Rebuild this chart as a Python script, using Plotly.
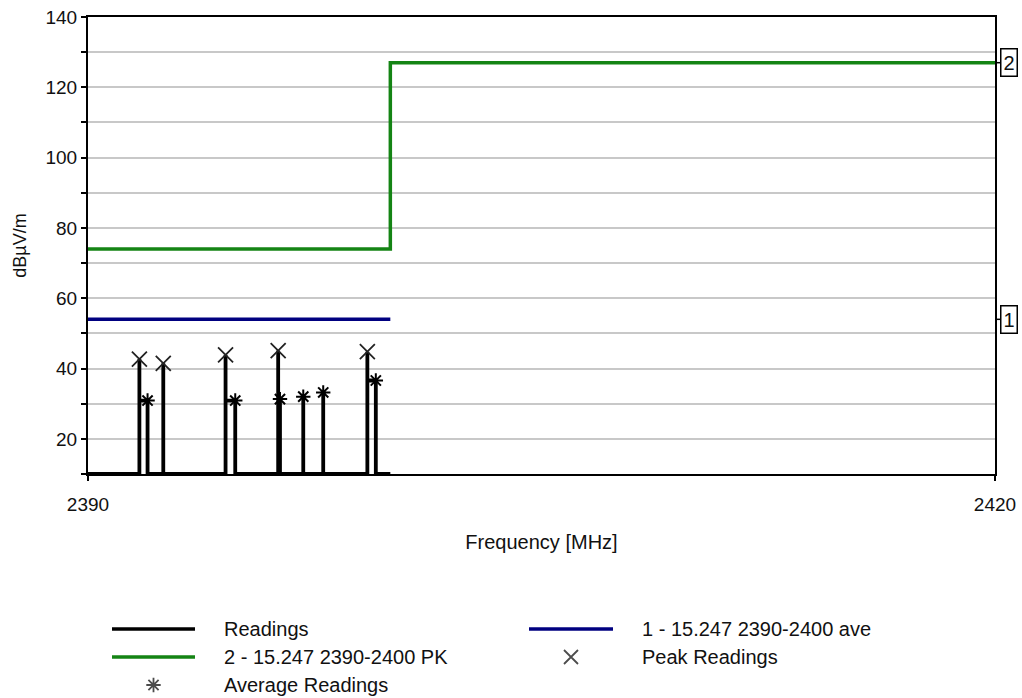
import plotly.graph_objects as go

# ---------------- data ----------------
freq_range = [2390, 2420]
y_range = [10, 140]
floor_level = 10

peak_freq = [2391.70, 2392.49, 2394.55, 2396.29, 2399.24]
peak_val = [42.7, 41.5, 43.9, 45.1, 44.8]

avg_freq = [2391.97, 2394.87, 2396.35, 2397.12, 2397.78, 2399.52]
avg_val = [30.9, 30.9, 31.3, 32.0, 33.2, 36.6]

readings_span = [2390, 2400]

limit_pk_freq = [2390, 2400, 2400, 2420]
limit_pk_val = [74, 74, 127, 127]

limit_ave_freq = [2390, 2400]
limit_ave_val = [54, 54]

y_tick_vals = [10, 20, 30, 40, 50, 60, 70, 80, 90, 100, 110, 120, 130, 140]
y_tick_text = ["", "20", "", "40", "", "60", "", "80", "", "100", "", "120", "", "140"]
x_tick_vals = [2390, 2420]
x_tick_text = ["2390", "2420"]

names = {
    "readings": "Readings",
    "ave": "1 - 15.247 2390-2400 ave",
    "pk": "2 - 15.247 2390-2400 PK",
    "peak": "Peak Readings",
    "avg": "Average Readings",
}
limit_labels = {"pk": "2", "ave": "1"}

# ---------------- build readings trace path ----------------
pts = sorted([(f, v, "p") for f, v in zip(peak_freq, peak_val)] +
             [(f, v, "a") for f, v in zip(avg_freq, avg_val)])
rx, ry = [readings_span[0]], [floor_level]
i = 0
while i < len(pts):
    f, v, k = pts[i]
    if k == "p" and i + 1 < len(pts) and pts[i + 1][2] == "a" and pts[i + 1][0] - f < 0.4:
        fa, va, _ = pts[i + 1]
        rx += [f, f, f, fa, fa]
        ry += [floor_level, v, va, va, floor_level]
        i += 2
    else:
        rx += [f, f, f]
        ry += [floor_level, v, floor_level]
        i += 1
rx.append(readings_span[1])
ry.append(floor_level)

# ---------------- layout geometry (pixels) ----------------
W, H = 1022, 698
PL, PR, PT, PB = 88, 995, 17, 474   # plot rectangle
FONT = "Liberation Sans, Arial, sans-serif"
FS = 19
FL = 20
GREEN = "#148414"
NAVY = "#000080"

fig = go.Figure()

fig.add_trace(go.Scatter(x=limit_pk_freq, y=limit_pk_val, mode="lines",
                         line=dict(color=GREEN, width=3.5), name=names["pk"]))
fig.add_trace(go.Scatter(x=limit_ave_freq, y=limit_ave_val, mode="lines",
                         line=dict(color=NAVY, width=3.5), name=names["ave"]))
fig.add_trace(go.Scatter(x=rx, y=ry, mode="lines",
                         line=dict(color="black", width=3.8), name=names["readings"]))
fig.add_trace(go.Scatter(x=peak_freq, y=peak_val, mode="markers",
                         marker=dict(symbol="x-thin-open", size=15, color="#222",
                                     line=dict(color="#222", width=1.8)),
                         name=names["peak"]))
fig.add_trace(go.Scatter(x=avg_freq, y=avg_val, mode="markers",
                         marker=dict(symbol="asterisk-open", size=12, color="black",
                                     line=dict(color="black", width=2)),
                         name=names["avg"]))

# ---------------- custom legend (pixel coords via x2/y2 overlay) ----------------
rows = [629, 657, 685]
col1 = (112, 195, 222)
col2 = (529, 613, 640)
legend_items = [
    (col1, rows[0], "line", "black", names["readings"]),
    (col2, rows[0], "line", NAVY, names["ave"]),
    (col1, rows[1], "line", GREEN, names["pk"]),
    (col2, rows[1], "x-thin-open", "#222", names["peak"]),
    (col1, rows[2], "asterisk-open", "black", names["avg"]),
]
shapes = []
annotations = []
mk_x, mk_y, mk_sym, mk_size = [], [], [], []
for (x0, x1, xt), yy, kind, color, text in legend_items:
    if kind == "line":
        shapes.append(dict(type="line", xref="x2", yref="y2",
                           x0=x0, x1=x1, y0=yy, y1=yy,
                           line=dict(color=color, width=3.5)))
    else:
        mk_x.append((x0 + x1) / 2)
        mk_y.append(yy)
        mk_sym.append(kind)
        mk_size.append(14 if kind.startswith("x") else 12)
    annotations.append(dict(xref="x2", yref="y2", x=xt, y=yy,
                            xanchor="left", yanchor="middle", showarrow=False,
                            text=text, font=dict(family=FONT, size=FL, color="#111")))

fig.add_trace(go.Scatter(x=mk_x, y=mk_y, mode="markers", xaxis="x2", yaxis="y2",
                         showlegend=False, hoverinfo="skip",
                         marker=dict(symbol=mk_sym, size=mk_size, color="black",
                                     line=dict(color="black", width=1.8))))

# right-side limit labels
for key, yv in (("pk", limit_pk_val[-1]), ("ave", limit_ave_val[-1])):
    shapes.append(dict(type="line", xref="x domain", yref="y",
                       x0=1, x1=1 + 5 / (PR - PL), y0=yv, y1=yv,
                       line=dict(color="black", width=1.5)))
    annotations.append(dict(xref="x domain", yref="y", x=1 + 5 / (PR - PL), y=yv,
                            xanchor="left", yanchor="middle", showarrow=False,
                            text=limit_labels[key], bordercolor="black", borderwidth=1.5,
                            borderpad=2, bgcolor="white",
                            font=dict(family=FONT, size=FL, color="#111")))

fig.update_layout(
    width=W, height=H,
    margin=dict(l=0, r=0, t=0, b=0),
    paper_bgcolor="white", plot_bgcolor="rgba(0,0,0,0)",
    font=dict(family=FONT, size=FS, color="#111"),
    showlegend=False,
    shapes=shapes,
    annotations=annotations,
    xaxis=dict(domain=[PL / W, PR / W], anchor="y",
               range=freq_range, tickvals=x_tick_vals, ticktext=x_tick_text,
               showgrid=False, zeroline=False, showline=True, linecolor="black",
               linewidth=2, mirror=True, ticks="outside", ticklen=5, tickwidth=1.5,
               tickcolor="black", ticklabelstandoff=7, automargin=False,
               title=dict(text="Frequency [MHz]", standoff=21,
                          font=dict(family=FONT, size=FL, color="#111"))),
    yaxis=dict(domain=[(H - PB) / H, (H - PT) / H], anchor="x",
               range=y_range, tickvals=y_tick_vals, ticktext=y_tick_text,
               showgrid=True, gridcolor="#c8c8c8", gridwidth=1.5, zeroline=False,
               showline=True, linecolor="black", linewidth=2, mirror=True,
               ticks="outside", ticklen=5, tickwidth=1.5, tickcolor="black",
               ticklabelstandoff=0, automargin=False,
               title=dict(text="dBµV/m", standoff=14,
                          font=dict(family=FONT, size=FS - 1, color="#111"))),
    xaxis2=dict(domain=[0, 1], anchor="y2", range=[0, W], visible=False, fixedrange=True),
    yaxis2=dict(domain=[0, 1], anchor="x2", range=[H, 0], visible=False, fixedrange=True),
)

fig.write_html("out.html")
